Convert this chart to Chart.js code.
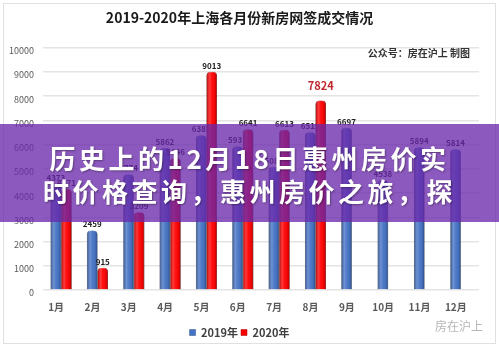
<!DOCTYPE html>
<html lang="zh">
<head>
<meta charset="utf-8">
<title>2019-2020年上海各月份新房网签成交情况</title>
<script src="https://cdn.jsdelivr.net/npm/chart.js@4"></script>
<style>
  html, body { margin: 0; padding: 0; background: #fff; }
  #container_grafico { position: relative; width: 499px; height: 346px; overflow: hidden; }
  #grafico { display: block; }
  #moldura { position: absolute; left: 3px; top: 3px; right: 3px; bottom: 2px; border: 1px solid #e0e0e0; pointer-events: none; }
  #faixa {
    position: absolute; left: 0; top: 124px; width: 499px; height: 98px;
    box-sizing: border-box; padding-top: 17px; overflow: hidden;
    background: rgba(105, 39, 170, 0.77); color: #fff;
    font-family: "Noto Sans CJK SC", sans-serif; font-weight: 700;
    font-size: 26px; letter-spacing: 3.5px; line-height: 33px; text-align: center;
    text-shadow: 1px 1px 2px rgba(0, 0, 0, 0.35);
  }
</style>
</head>
<body>
<div id="container_grafico">
  <canvas id="grafico" width="499" height="346"></canvas>
  <div id="moldura"></div>
  <div id="faixa">历史上的12月18日惠州房价实<br>时价格查询，惠州房价之旅，探</div>
</div>
<script>
// dados
const meses = ["1月", "2月", "3月", "4月", "5月", "6月", "7月", "8月", "9月", "10月", "11月", "12月"]
const vendas2019 = [4373, 2459, 4774, 5862, 6385, 5931, 5088, 6515, 6697, 4538, 5894, 5814]
const vendas2020 = [4171, 915, 3209, 5446, 9013, 6641, 6613, 7824, null, null, null, null]
const series = ["2019年", "2020年"]
const eixoYMax = 10000
const eixoYPasso = 1000
const titulo = "2019-2020年上海各月份新房网签成交情况"
const assinatura = "公众号：房在沪上 制图"
const marcaDagua = "房在沪上"
const mesDestaque = "8月"

const azul = "#4472c4"
const vermelho = "#ff0000"
const fonte = '"Noto Sans CJK SC", "Noto Sans", sans-serif'

Chart.defaults.font.family = fonte

const grafico = document.getElementById("grafico")

// rotulo de valor em cima de cada barra
function desenharRotulos(chart, indice) {
    const ctx = chart.ctx
    const ds = chart.data.datasets[indice]
    const meta = chart.getDatasetMeta(indice)
    ctx.save()
    ctx.textAlign = "center"
    ctx.textBaseline = "bottom"
    meta.data.forEach((barra, j) => {
        const valor = ds.data[j]
        if (valor == null) return
        const destaque = indice == 1 && meses[j] == mesDestaque
        ctx.font = destaque ? `bold 11px ${fonte}` : `bold 8px ${fonte}`
        ctx.fillStyle = destaque ? "#c0282d" : "#222"
        ctx.fillText(String(valor), barra.x, barra.y - (destaque ? 9 : 2))
    })
    ctx.restore()
}

// sombra de cilindro por cima das barras
function sombrearBarras(chart) {
    const ctx = chart.ctx
    chart.data.datasets.forEach((ds, i) => {
        chart.getDatasetMeta(i).data.forEach((barra, j) => {
            if (ds.data[j] == null) return
            const esq = barra.x - barra.width / 2
            const grad = ctx.createLinearGradient(esq, 0, esq + barra.width, 0)
            grad.addColorStop(0, "rgba(0,0,0,0.35)")
            grad.addColorStop(0.3, "rgba(255,255,255,0.22)")
            grad.addColorStop(0.55, "rgba(255,255,255,0.04)")
            grad.addColorStop(0.85, "rgba(0,0,0,0.12)")
            grad.addColorStop(1, "rgba(0,0,0,0.4)")
            ctx.save()
            ctx.fillStyle = grad
            ctx.beginPath()
            ctx.roundRect(esq, barra.y, barra.width, barra.base - barra.y, [4, 4, 0, 0])
            ctx.fill()
            ctx.restore()
        })
    })
}

const pluginBarras = {
    id: "barras",
    beforeDatasetsDraw(chart) {
        desenharRotulos(chart, 0)
    },
    afterDatasetsDraw(chart) {
        sombrearBarras(chart)
        desenharRotulos(chart, 1)
    },
    afterDraw(chart) {
        const ctx = chart.ctx
        const area = chart.chartArea
        ctx.save()
        ctx.textAlign = "right"
        ctx.textBaseline = "middle"
        ctx.font = `bold 10px ${fonte}`
        ctx.fillStyle = "#333"
        ctx.fillText(assinatura, area.right - 9, area.top + 5)
        ctx.font = `12px ${fonte}`
        ctx.fillStyle = "#b5b5b5"
        ctx.fillText(marcaDagua, area.right + 4, 326)
        ctx.restore()
    }
}

new Chart(grafico, {
    type: "bar",
    data: {
        labels: meses,
        datasets: [{
            label: series[0],
            data: vendas2019,
            backgroundColor: azul,
            borderColor: "#2f528f",
            borderWidth: 0.5,
            borderRadius: { topLeft: 4, topRight: 4 },
            borderSkipped: "bottom",
            categoryPercentage: 0.58,
            barPercentage: 1.0
        }, {
            label: series[1],
            data: vendas2020,
            backgroundColor: vermelho,
            borderColor: "#a00000",
            borderWidth: 0.5,
            borderRadius: { topLeft: 4, topRight: 4 },
            borderSkipped: "bottom",
            categoryPercentage: 0.58,
            barPercentage: 1.0
        }]
    },
    options: {
        responsive: false,
        animation: false,
        layout: { padding: { left: 0, right: 20, top: 0, bottom: -2 } },
        scales: {
            x: {
                grid: { display: false, drawTicks: false },
                border: { display: false },
                ticks: { color: "#595959", font: { size: 10, weight: "bold" }, padding: 11, labelOffset: -5, maxRotation: 0 }
            },
            y: {
                min: 0,
                max: eixoYMax,
                border: { display: false },
                grid: { color: "#e4e4e4", lineWidth: 1.5, drawTicks: false },
                ticks: {
                    stepSize: eixoYPasso, color: "#595959", font: { size: 9 }, padding: 9, labelOffset: 3,
                    callback: (valor) => String(valor)
                }
            }
        },
        plugins: {
            title: {
                display: true,
                text: titulo,
                color: "#1a1a1a",
                font: { size: 14, weight: "bold" },
                padding: { top: 9, bottom: 22 }
            },
            legend: {
                position: "bottom",
                labels: {
                    usePointStyle: true,
                    pointStyle: "rect",
                    pointStyleWidth: 6,
                    boxHeight: 6,
                    padding: 3,
                    color: "#404040",
                    font: { size: 11, weight: "bold" }
                }
            },
            tooltip: { enabled: false }
        }
    },
    plugins: [pluginBarras]
})
</script>
</body>
</html>
